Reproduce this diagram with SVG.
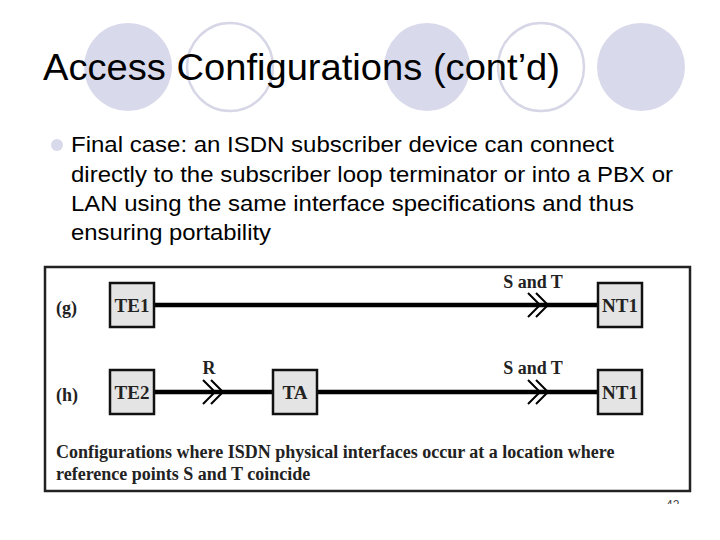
<svg xmlns="http://www.w3.org/2000/svg" width="720" height="540" viewBox="0 0 720 540">
<defs>
<style>
.fill{fill:#d9d9ec}
.ring{fill:none;stroke:#d6d6e6;stroke-width:2.5}
.title{font-family:"Liberation Sans",Arial,sans-serif;font-size:36px;fill:#000}
.body{font-family:"Liberation Sans",Arial,sans-serif;font-size:22px;fill:#000}
.tm{font-family:"Liberation Serif","Times New Roman",serif;font-weight:bold;fill:#222}
.box{fill:#e4e4e4;stroke:#111;stroke-width:2.5}
.lbl{font-size:19px;text-anchor:middle}
.wire{stroke:#000;stroke-width:4.5;fill:none}
.chev{stroke:#000;stroke-width:2;fill:none}
</style>
<clipPath id="pn"><rect x="650" y="494" width="40" height="10"/></clipPath>
</defs>
<rect width="720" height="540" fill="#fff"/>
<g id="decor">
<ellipse class="fill" cx="128" cy="67" rx="44" ry="44"/>
<ellipse class="ring" cx="230" cy="67" rx="43" ry="44"/>
<ellipse class="fill" cx="427" cy="67" rx="43" ry="44"/>
<ellipse class="ring" cx="541" cy="67" rx="43" ry="44"/>
<ellipse class="fill" cx="641" cy="67" rx="44" ry="44"/>
</g>
<text class="title" x="43" y="80" textLength="517" lengthAdjust="spacingAndGlyphs">Access Configurations (cont’d)</text>
<g id="bullet">
<circle class="fill" cx="57" cy="145" r="6"/>
<text class="body" x="71" y="152" textLength="543" lengthAdjust="spacingAndGlyphs">Final case: an ISDN subscriber device can connect</text>
<text class="body" x="71" y="182" textLength="602" lengthAdjust="spacingAndGlyphs">directly to the subscriber loop terminator or into a PBX or</text>
<text class="body" x="71" y="211" textLength="563" lengthAdjust="spacingAndGlyphs">LAN using the same interface specifications and thus</text>
<text class="body" x="71" y="240" textLength="200" lengthAdjust="spacingAndGlyphs">ensuring portability</text>
</g>
<rect x="45" y="267" width="645" height="224" fill="#fff" stroke="#222" stroke-width="2.5"/>
<g id="connectors">
<line class="wire" x1="154" y1="305" x2="598" y2="305"/>
<line class="wire" x1="154" y1="392" x2="273" y2="392"/>
<line class="wire" x1="317" y1="392" x2="598" y2="392"/>
<path class="chev" d="M528,293 L540,305 L528,317 M536,293 L548,305 L536,317"/>
<path class="chev" d="M528,380 L540,392 L528,404 M536,380 L548,392 L536,404"/>
<path class="chev" d="M203,380 L215,392 L203,404 M211,380 L223,392 L211,404"/>
<text class="tm" x="533" y="288" font-size="18" text-anchor="middle">S and T</text>
<text class="tm" x="533" y="374" font-size="18" text-anchor="middle">S and T</text>
<text class="tm" x="209" y="374" font-size="18" text-anchor="middle">R</text>
</g>
<text class="tm" x="56" y="314" font-size="18">(g)</text>
<text class="tm" x="56" y="401" font-size="18">(h)</text>
<g id="TE1"><rect class="box" x="110" y="283" width="44" height="44"/><text class="tm lbl" x="132" y="312">TE1</text></g>
<g id="NT1g"><rect class="box" x="598" y="283" width="44" height="44"/><text class="tm lbl" x="620" y="312">NT1</text></g>
<g id="TE2"><rect class="box" x="110" y="370" width="44" height="44"/><text class="tm lbl" x="132" y="399">TE2</text></g>
<g id="TA"><rect class="box" x="273" y="370" width="44" height="44"/><text class="tm lbl" x="295" y="399">TA</text></g>
<g id="NT1h"><rect class="box" x="598" y="370" width="44" height="44"/><text class="tm lbl" x="620" y="399">NT1</text></g>
<text class="tm" x="56" y="458" font-size="18">Configurations where ISDN physical interfaces occur at a location where</text>
<text class="tm" x="56" y="480" font-size="18">reference points S and T coincide</text>
<text x="666" y="509" clip-path="url(#pn)" font-family="Liberation Sans,Arial,sans-serif" font-size="12" fill="#444">42</text>
</svg>
